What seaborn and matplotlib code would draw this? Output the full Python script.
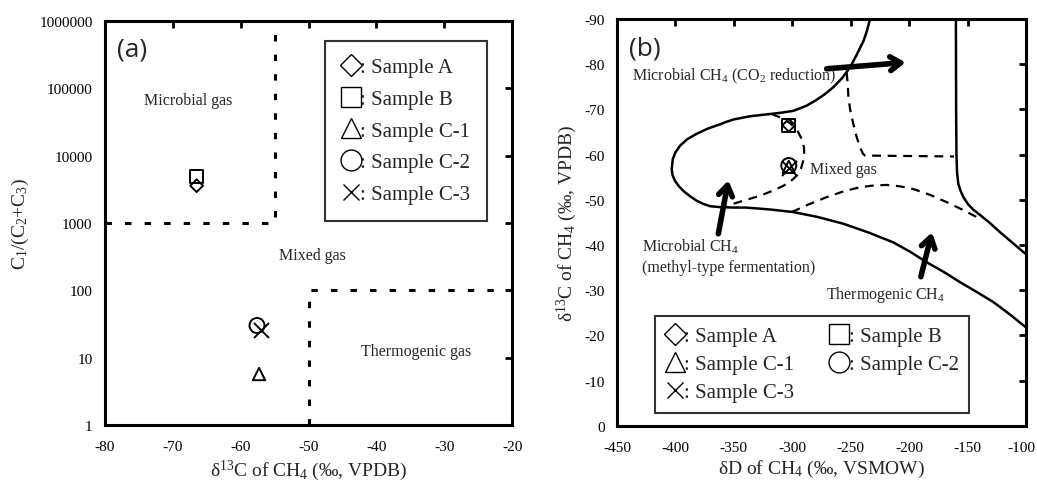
import numpy as np
import pandas as pd
import matplotlib
matplotlib.use("Agg")
import matplotlib.pyplot as plt
import matplotlib.transforms as mtransforms
import seaborn as sns
from matplotlib.lines import Line2D
from matplotlib.ticker import FixedLocator, FixedFormatter, NullLocator

# ---- data ----
samples = ["Sample A", "Sample B", "Sample C-1", "Sample C-2", "Sample C-3"]
sample_markers = ["D", "s", "^", "o", "x"]
d13c_ch4 = [-66.5, -66.5, -57.3, -57.6, -57.0]
c1_c2c3 = [3580, 4870, 5.7, 30, 26]
dd_ch4 = [-303, -303, -303, -303, -303]

# panel (a) field boundaries
micro_bx = [-80, -55, -55]
micro_by = [1000, 1000, 1e6]
thermo_bx = [-50, -50, -20]
thermo_by = [1, 100, 100]

# panel (b) field boundaries (dD, d13C)
outer_dd = [-233.5, -236, -239, -244.5, -250.6, -257.5, -265, -272, -280, -288, -299,
            -309, -319, -336, -350, -356, -362, -372, -382, -390, -396, -400, -402.3,
            -403.2, -402.5, -400.4, -397, -393.3, -388, -381.8, -376, -370.4, -362,
            -350, -340, -320, -299, -278, -256, -235, -213.6, -199, -185, -170,
            -156.5, -142, -128, -115, -102, -100]
outer_dc = [-90, -87.5, -85.2, -82.3, -79.3, -76.9, -74.9, -73.4, -72.0, -70.8, -69.7,
            -69.3, -69.0, -68.5, -67.8, -67.3, -66.7, -65.8, -64.6, -63.4, -62.0, -60.5,
            -59.0, -56.8, -55.5, -54.2, -53.0, -52.0, -50.9, -49.8, -49.1, -48.6, -48.4,
            -48.3, -48.3, -47.9, -47.3, -46.2, -44.7, -42.8, -40.6, -38.5, -36.2, -34.0,
            -31.8, -29.6, -27.4, -24.9, -22.2, -21.8]
thermo_dd = [-160, -159.8, -159.5, -159, -157.9, -156, -153.6, -149.5, -145, -139.5,
             -131, -122, -112, -102, -100]
thermo_dc = [-90, -70, -60, -56, -53.5, -52, -50.6, -49, -47.8, -46.7,
             -44.9, -42.8, -40.6, -38.4, -38]
co2_dd = [-253.5, -252.5, -252, -250.5, -247.8, -245, -242, -239.5, -237.8, -161.6]
co2_dc = [-78.2, -75.5, -72.7, -70, -66.8, -64, -61.6, -60.2, -59.8, -59.6]
methyl_dd = [-317.6, -310, -302, -296, -292, -290, -289.8, -290.6, -292.5, -296, -301,
             -307.7, -317, -327.6, -342, -356]
methyl_dc = [-69.0, -68.2, -67, -65.5, -63.5, -61.6, -60, -58.7, -57, -55.4, -54.2,
             -53.1, -52, -50.9, -49.8, -48.7]
mixth_dd = [-300.5, -286, -270.6, -256, -242, -230, -219, -208, -196.5, -182, -167.9,
            -155, -142.2]
mixth_dc = [-47.3, -49.0, -50.6, -51.9, -52.8, -53.2, -53.3, -53.0, -52.4, -51.1, -49.5,
            -47.9, -46.2]

sns.set_style("white")
plt.rcParams["font.family"] = ["Liberation Serif", "DejaVu Serif"]
plt.rcParams["mathtext.fontset"] = "custom"
plt.rcParams["mathtext.rm"] = "Liberation Serif"
plt.rcParams["mathtext.default"] = "regular"
plt.rcParams["axes.unicode_minus"] = False

fig = plt.figure(figsize=(10.37, 4.89), dpi=100)
ax1 = fig.add_axes([0.1013, 0.129, 0.3925, 0.826])
ax2 = fig.add_axes([0.595, 0.127, 0.3944, 0.832])

pt_sizes = {"D": 42, "s": 83, "^": 79, "o": 117, "x": 117}


def draw_points(ax, xs, ys):
    for name, m, x, y in zip(samples, sample_markers, xs, ys):
        if m == "x":
            sns.scatterplot(x=[x], y=[y], marker=m, s=pt_sizes[m], color="black",
                            linewidth=1.4, ax=ax, legend=False, zorder=5)
        else:
            sns.scatterplot(x=[x], y=[y], marker=m, s=pt_sizes[m], facecolor="none",
                            edgecolor="black", linewidth=1.4, ax=ax, legend=False, zorder=5)


def style_axes(ax):
    for sp in ax.spines.values():
        sp.set_linewidth(2.2)
        sp.set_color("black")
        sp.set_visible(True)
    ax.tick_params(which="major", direction="in", length=5, width=2, top=True, right=True,
                   labelsize=11, colors="black")
    ax.tick_params(axis="x", pad=11)
    ax.tick_params(axis="y", pad=9)
    ax.tick_params(which="minor", length=0)
    ax.set_facecolor("white")


# ---- panel (a) ----
dash_a = dict(color="black", linewidth=2.2, linestyle=(0, (2.1, 4.3)), sort=False, estimator=None)
sns.lineplot(x=micro_bx, y=micro_by, ax=ax1, **dash_a)
sns.lineplot(x=thermo_bx, y=thermo_by, ax=ax1, **dash_a)
draw_points(ax1, d13c_ch4, c1_c2c3)
ax1.set_yscale("log")
ax1.set_xlim(-80, -20)
ax1.set_ylim(1, 1e6)
yt = [1, 10, 100, 1000, 10000, 100000, 1000000]
ax1.yaxis.set_major_locator(FixedLocator(yt))
ax1.yaxis.set_major_formatter(FixedFormatter([str(v) for v in yt]))
ax1.yaxis.set_minor_locator(NullLocator())
ax1.set_xticks(np.arange(-80, -19, 10))
style_axes(ax1)
ax1.set_xlabel(r"δ$^{13}$C of CH$_4$ (‰, VPDB)", fontsize=14, labelpad=3)
ax1.set_ylabel(r"C$_1$/(C$_2$+C$_3$)", fontsize=14, labelpad=6)
ax1.text(0.03, 0.93, "(a)", transform=ax1.transAxes, fontsize=19, family="Open Sans",
         va="center", ha="left")
ax1.text(-67.8, 66000, "Microbial gas", fontsize=11.5, ha="center", va="center")
ax1.text(-49.5, 330, "Mixed gas", fontsize=11.5, ha="center", va="center")
ax1.text(-34.2, 12.7, "Thermogenic gas", fontsize=11.5, ha="center", va="center")

leg_sizes = {"D": 11, "s": 15, "^": 15, "o": 15, "x": 12}
handles = [Line2D([], [], marker=m, linestyle="none", markerfacecolor="none",
                  markeredgecolor="black", color="black", markeredgewidth=1.0,
                  markersize=leg_sizes[m]) for m in sample_markers]
labels = [": " + s for s in samples]
leg1 = ax1.legend(handles, labels, loc="upper right", bbox_to_anchor=(0.9386, 0.950),
                  fontsize=15, frameon=True, fancybox=False, edgecolor="black",
                  handlelength=0.9, handletextpad=0.0, labelspacing=0.58,
                  borderpad=0.8, borderaxespad=0)
leg1.get_frame().set_linewidth(1.5)

# ---- panel (b) ----
solid_b = dict(color="black", linewidth=1.8, sort=False, estimator=None)
dash_b = dict(color="black", linewidth=1.6, linestyle=(0, (4, 3)), sort=False, estimator=None)
sns.lineplot(x=outer_dd, y=outer_dc, ax=ax2, **solid_b)
sns.lineplot(x=thermo_dd, y=thermo_dc, ax=ax2, **solid_b)
sns.lineplot(x=co2_dd, y=co2_dc, ax=ax2, **dash_b)
sns.lineplot(x=methyl_dd, y=methyl_dc, ax=ax2, **dash_b)
sns.lineplot(x=mixth_dd, y=mixth_dc, ax=ax2, **dash_b)
draw_points(ax2, dd_ch4, d13c_ch4)
ax2.set_xlim(-450, -100)
ax2.set_ylim(-90, 0)
ax2.invert_yaxis()
ax2.set_xticks(np.arange(-450, -99, 50))
ax2.set_yticks(np.arange(-90, 1, 10))
style_axes(ax2)
# keep the last tick label inside the canvas
last_lbl = ax2.get_xticklabels()[-1]
last_lbl.set_transform(last_lbl.get_transform() +
                       mtransforms.ScaledTranslation(-5 / 100, 0, fig.dpi_scale_trans))
ax2.set_xlabel(r"δD of CH$_4$ (‰, VSMOW)", fontsize=14, labelpad=3)
ax2.set_ylabel(r"δ$^{13}$C of CH$_4$ (‰, VPDB)", fontsize=14, labelpad=4)
ax2.text(0.03, 0.93, "(b)", transform=ax2.transAxes, fontsize=19, family="Open Sans",
         va="center", ha="left")

arrow_kw = dict(arrowstyle="->,head_width=0.5,head_length=0.75", lw=4, color="black",
                shrinkA=0, shrinkB=0)
ax2.annotate("", xy=(-203, -80.4), xytext=(-270.6, -79), arrowprops=arrow_kw)
ax2.annotate("", xy=(-354.7, -54.3), xytext=(-363.3, -42.5), arrowprops=arrow_kw)
ax2.annotate("", xy=(-180.5, -42.8), xytext=(-190, -33), arrowprops=arrow_kw)

ax2.text(-437, -77.6, r"Microbial CH$_4$ (CO$_2$ reduction)", fontsize=11.5, va="center")
ax2.text(-284.5, -56.9, "Mixed gas", fontsize=11.5, va="center")
ax2.text(-428.6, -39.9, r"Microbial CH$_4$", fontsize=11.5, va="center")
ax2.text(-428.6, -35.1, "(methyl-type fermentation)", fontsize=11.5, va="center")
ax2.text(-271, -29.2, r"Thermogenic CH$_4$", fontsize=11.5, va="center")

order = [0, 2, 4, 1, 3]
leg2 = ax2.legend([handles[i] for i in order], [labels[i] for i in order], ncol=2,
                  loc="lower left", bbox_to_anchor=(0.093, 0.032), fontsize=15,
                  frameon=True, fancybox=False, edgecolor="black",
                  handlelength=0.9, handletextpad=0.0, labelspacing=0.41,
                  columnspacing=1.7, borderpad=0.5, borderaxespad=0)
leg2.get_frame().set_linewidth(1.5)

fig.savefig("out.png", dpi=100, facecolor="white")
